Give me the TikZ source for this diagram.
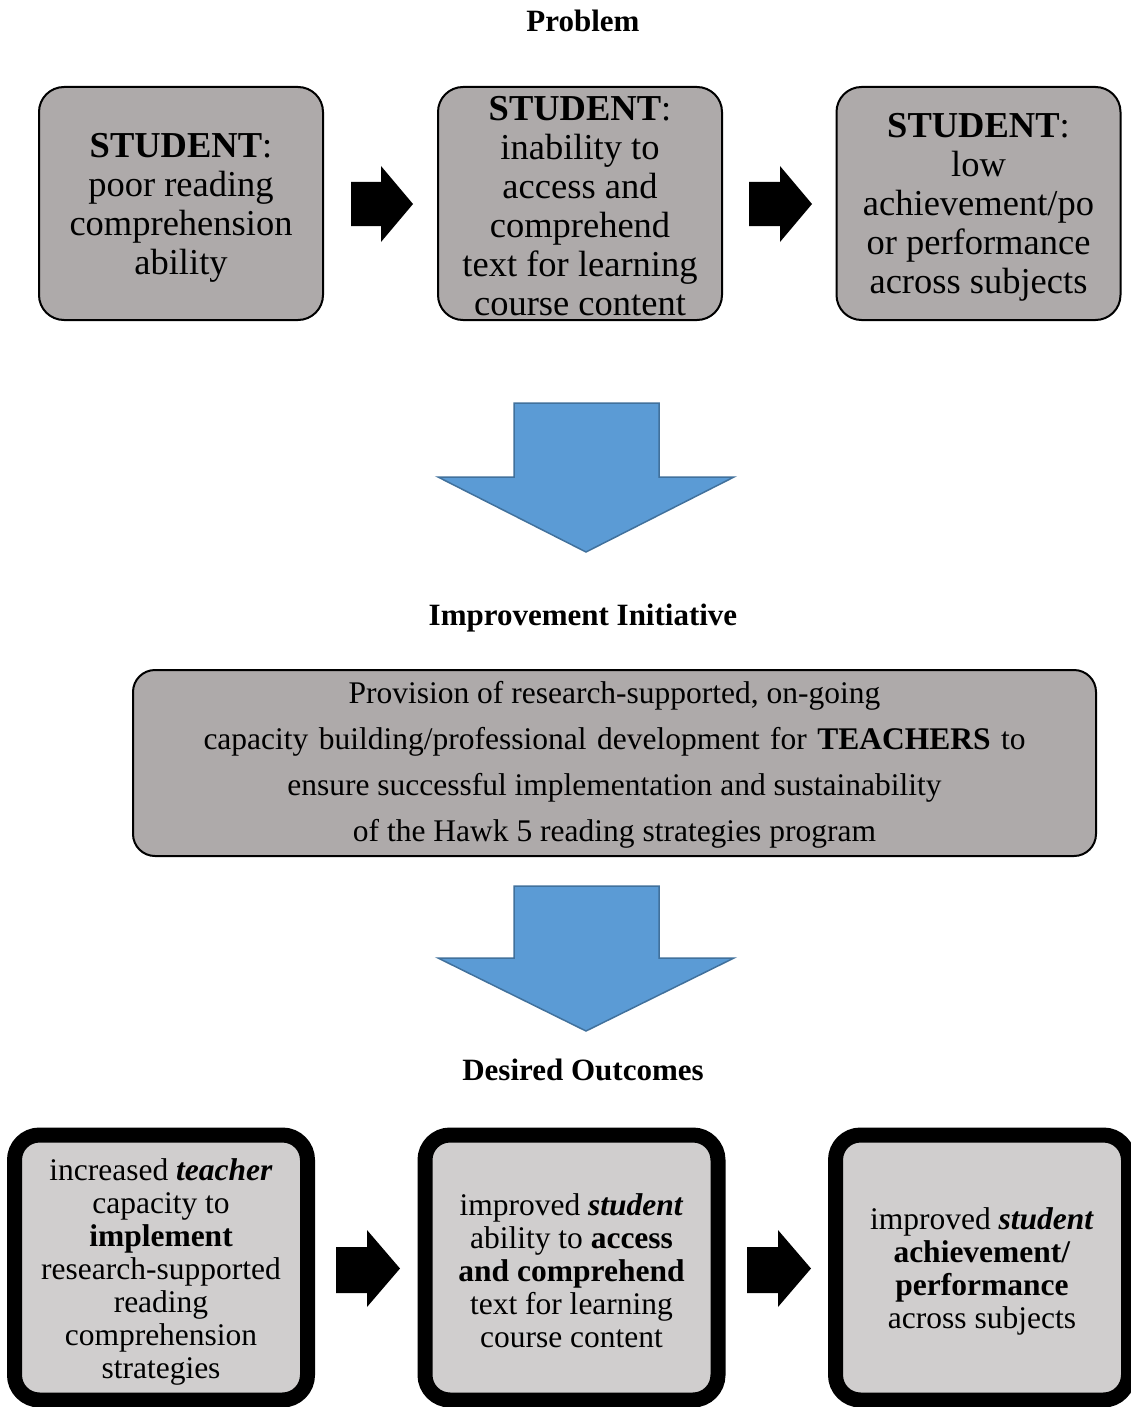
\documentclass[tikz,border=0pt]{standalone}
\usepackage{fontspec}
\setmainfont{Liberation Serif}
\definecolor{probgray}{HTML}{AEAAAA}
\definecolor{outgray}{HTML}{D0CECE}
\definecolor{bluefill}{HTML}{5B9BD5}
\definecolor{blueline}{HTML}{41719C}
\tikzset{
  heading/.style={anchor=base, inner sep=0pt, font=\fontsize{31}{34}\selectfont\bfseries},
  probbox/.style={draw=black, line width=2pt, fill=probgray, rounded corners=25pt,
    minimum width=284pt, minimum height=233pt, inner sep=0pt},
  probtext/.style={inner sep=0pt, align=center, font=\fontsize{36.5}{39}\selectfont},
  initbox/.style={draw=black, line width=2pt, fill=probgray, rounded corners=22pt,
    minimum width=963pt, minimum height=186pt, inner sep=0pt},
  inittext/.style={inner sep=0pt, align=center, font=\fontsize{31.5}{46}\selectfont},
  outbox/.style={draw=black, line width=15pt, fill=outgray, rounded corners=25pt,
    minimum width=293pt, minimum height=265pt, inner sep=0pt},
  outtext/.style={inner sep=0pt, align=center, font=\fontsize{31.5}{33}\selectfont},
  blackarrow/.style={fill=black, draw=none},
  bluearrow/.style={fill=bluefill, draw=blueline, line width=1.5pt, line join=miter}
}
\begin{document}
\begin{tikzpicture}[x=1pt,y=-1pt]
\useasboundingbox (0,0) rectangle (1131,1407);
\clip (0,0) rectangle (1131,1407);
\fill[white] (0,0) rectangle (1131,1407);

% headings
\node[heading] (hprob) at (583,32) {Problem};
\node[heading] (hinit) at (583,625) {Improvement Initiative};
\node[heading] (hout) at (583,1080) {Desired Outcomes};

% problem boxes
\node[probbox] (p1) at (181,203.5) {};
\node[probbox] (p2) at (580,203.5) {};
\node[probbox] (p3) at (978.5,203.5) {};
\node[probtext] (p1t) at ([yshift=-4pt]p1.center) {\textbf{STUDENT}:\\poor reading\\comprehension\\ability};
\node[probtext] (p2t) at ([yshift=-3pt]p2.center) {\textbf{STUDENT}:\\inability to\\access and\\comprehend\\text for learning\\course content};
\node[probtext] (p3t) at ([yshift=-4pt]p3.center) {\textbf{STUDENT}:\\low\\achievement/po\\or performance\\across subjects};

% black arrows (problem row)
\fill[blackarrow] (351,182) -- (381,182) -- (381,166) -- (413,204) -- (381,242) -- (381,226) -- (351,226) -- cycle;
\fill[blackarrow] (749,182) -- (780,182) -- (780,166) -- (812,204) -- (780,242) -- (780,226) -- (749,226) -- cycle;

% blue arrow 1
\draw[bluearrow] (514,403) -- (659,403) -- (659,477) -- (734,477) -- (586,552) -- (438,477) -- (514,477) -- cycle;

% initiative box
\node[initbox] (init) at (614.5,763) {};
\node[inittext] (initt) at ([yshift=-2pt]init.center) {Provision of research-supported, on-going\\
\makebox[822pt][s]{capacity building/professional development for \textbf{TEACHERS} to}\\
ensure successful implementation and sustainability\\
of the Hawk 5 reading strategies program};

% blue arrow 2
\draw[bluearrow] (514,886) -- (659,886) -- (659,958) -- (734,958) -- (586,1031) -- (438,958) -- (514,958) -- cycle;

% outcome boxes
\node[outbox] (o1) at (161,1267.5) {};
\node[outbox] (o2) at (571.5,1267.5) {};
\node[outbox] (o3) at (982,1267.5) {};
\node[outtext] (o1t) at ([yshift=-4pt]o1.center) {increased \textbf{\textit{teacher}}\\capacity to\\\textbf{implement}\\research-supported\\reading\\comprehension\\strategies};
\node[outtext] (o2t) at ([yshift=-3pt]o2.center) {improved \textbf{\textit{student}}\\ability to \textbf{access}\\\textbf{and comprehend}\\text for learning\\course content};
\node[outtext] (o3t) at ([yshift=-4pt]o3.center) {improved \textbf{\textit{student}}\\\textbf{achievement/}\\\textbf{performance}\\across subjects};

% black arrows (outcome row)
\fill[blackarrow] (336,1247) -- (367,1247) -- (367,1230) -- (400,1268.5) -- (367,1307) -- (367,1293) -- (336,1293) -- cycle;
\fill[blackarrow] (747,1247) -- (778,1247) -- (778,1230) -- (811,1268.5) -- (778,1307) -- (778,1293) -- (747,1293) -- cycle;
\end{tikzpicture}
\end{document}
